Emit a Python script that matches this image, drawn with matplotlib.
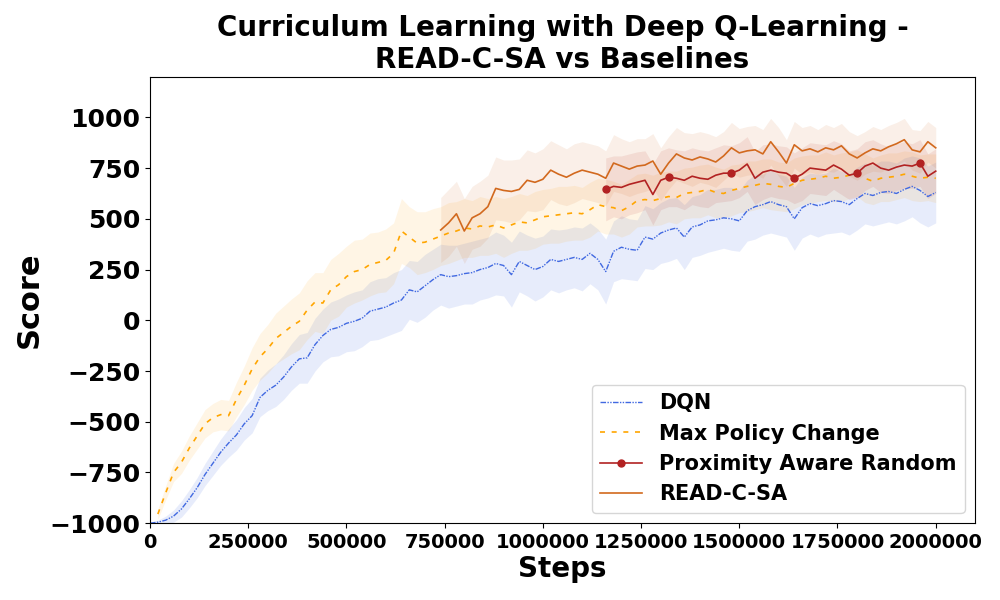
import numpy as np
import matplotlib
matplotlib.use('Agg')
import matplotlib.pyplot as plt

# steps (every 20000)
dqn_steps = np.arange(0, 2000001, 20000)
mpc_steps = np.arange(20000, 2000001, 20000)
read_steps = np.arange(740000, 2000001, 20000)
par_steps = np.arange(1160000, 2000001, 20000)

dqn_mean = [-1000,
            -995, -985, -965, -930, -880, -825, -760, -705, -650, -605,
            -565, -510, -470, -380, -345, -320, -280, -230, -190, -185,
            -120, -75, -45, -35, -15, -5, 10, 45, 55, 65,
            85, 100, 150, 140, 170, 200, 225, 215, 220, 230,
            235, 250, 260, 280, 270, 225, 290, 270, 250, 265,
            300, 290, 300, 310, 300, 330, 300, 240, 340, 360,
            350, 345, 410, 400, 430, 445, 455, 410, 460, 470,
            490, 495, 505, 500, 490, 540, 560, 570, 585, 570,
            560, 500, 555, 575, 565, 575, 590, 585, 570, 600,
            625, 615, 630, 635, 625, 645, 660, 640, 610, 630]
dqn_std = [5,
           10, 20, 30, 40, 45, 50, 55, 60, 65, 70,
           75, 80, 85, 95, 100, 105, 110, 115, 120, 125,
           130, 130, 135, 140, 140, 145, 140, 145, 150, 145,
           150, 150, 145, 150, 155, 150, 150, 155, 150, 150,
           155, 150, 150, 155, 150, 160, 150, 150, 155, 150,
           150, 155, 150, 150, 155, 150, 150, 160, 150, 155,
           150, 150, 155, 150, 150, 155, 150, 160, 150, 150,
           155, 150, 150, 155, 150, 150, 160, 150, 155, 150,
           150, 155, 150, 150, 155, 150, 160, 150, 150, 155,
           150, 150, 155, 150, 150, 155, 150, 160, 150, 150]

mpc_mean = [-955, -850, -750, -700, -630, -570, -510, -480, -465, -470,
            -390, -320, -240, -180, -140, -90, -60, -30, -5, 50,
            90, 85, 150, 175, 215, 240, 250, 275, 285, 295,
            330, 440, 410, 380, 385, 400, 415, 430, 440, 455,
            450, 465, 460, 470, 455, 470, 485, 480, 495, 510,
            515, 520, 525, 530, 525, 545, 570, 560, 555, 540,
            560, 590, 595, 590, 600, 610, 605, 625, 630, 635,
            645, 630, 625, 640, 650, 660, 665, 675, 670, 660,
            655, 675, 690, 695, 700, 710, 700, 705, 715, 725,
            700, 685, 700, 705, 710, 720, 710, 700, 705, 700]
mpc_std = [25, 35, 45, 55, 60, 65, 70, 70, 75, 75,
           85, 95, 105, 115, 120, 125, 130, 135, 140, 145,
           145, 150, 150, 155, 150, 155, 150, 155, 150, 155,
           150, 160, 150, 155, 150, 150, 145, 150, 145, 145,
           140, 145, 140, 140, 145, 140, 140, 135, 140, 135,
           135, 140, 135, 135, 130, 135, 130, 135, 130, 130,
           135, 130, 130, 125, 130, 125, 130, 125, 125, 130,
           125, 125, 120, 125, 120, 125, 120, 120, 125, 120,
           120, 125, 120, 120, 115, 120, 115, 120, 115, 115,
           120, 115, 115, 120, 115, 115, 120, 115, 115, 120]

read_mean = [445, 480, 525, 440, 505, 525, 560, 650, 640, 635,
             645, 690, 680, 695, 740, 720, 705, 725, 740, 730,
             720, 700, 775, 760, 745, 760, 765, 785, 720, 775,
             820, 800, 790, 805, 795, 780, 810, 850, 825, 835,
             840, 820, 880, 830, 775, 865, 835, 845, 830, 850,
             840, 860, 820, 800, 825, 845, 835, 855, 870, 890,
             840, 830, 880, 850]
read_std = [160, 165, 160, 160, 155, 160, 155, 155, 150, 155,
            150, 150, 145, 150, 145, 145, 140, 145, 140, 140,
            140, 135, 140, 135, 135, 135, 130, 135, 130, 130,
            130, 125, 130, 125, 125, 125, 120, 125, 120, 120,
            120, 120, 115, 120, 115, 115, 115, 115, 110, 115,
            110, 110, 110, 110, 105, 110, 105, 105, 105, 105,
            100, 105, 100, 100]

par_mean = [645, 660, 655, 670, 680, 690, 620, 690, 705, 700,
            690, 710, 700, 695, 715, 725, 725, 740, 770, 700,
            730, 740, 730, 725, 700, 720, 750, 745, 740, 765,
            745, 715, 725, 760, 775, 750, 740, 755, 765, 760,
            775, 710, 735]
par_std = [155, 150, 155, 150, 150, 145, 150, 145, 145, 140,
           145, 140, 140, 140, 135, 140, 135, 135, 135, 130,
           135, 130, 130, 130, 125, 130, 125, 125, 125, 120,
           125, 120, 120, 120, 115, 120, 115, 115, 115, 110,
           115, 110, 110]

fig = plt.figure(figsize=(10, 6), dpi=100)
ax = fig.add_axes([0.15, 0.128, 0.825, 0.744])

def band(x, m, s, color, alpha):
    m = np.array(m, dtype=float)
    s = np.array(s, dtype=float)
    ax.fill_between(x, m - s, m + s, color=color, alpha=alpha, linewidth=0)

band(dqn_steps, dqn_mean, dqn_std, 'royalblue', 0.12)
band(mpc_steps, mpc_mean, mpc_std, 'orange', 0.1)
band(par_steps, par_mean, par_std, 'firebrick', 0.1)
band(read_steps, read_mean, read_std, 'chocolate', 0.1)

ax.plot(dqn_steps, dqn_mean, color='royalblue', linewidth=1,
        linestyle=(0, (4, 1, 1, 1, 1, 1)), label='DQN')
ax.plot(mpc_steps, mpc_mean, color='orange', linewidth=1.2,
        linestyle=(0, (3, 4)), label='Max Policy Change')
ax.plot(par_steps, par_mean, color='firebrick', linewidth=1.2,
        marker='o', markersize=5, markevery=8, label='Proximity Aware Random')
ax.plot(read_steps, read_mean, color='chocolate', linewidth=1.2,
        label='READ-C-SA')

ax.set_xlim(0, 2100000)
ax.set_ylim(-1000, 1200)
ax.set_xticks([0, 250000, 500000, 750000, 1000000, 1250000, 1500000, 1750000, 2000000])
ax.set_yticks([-1000, -750, -500, -250, 0, 250, 500, 750, 1000])
ax.ticklabel_format(style='plain', axis='x', useOffset=False)
for t in ax.get_xticklabels():
    t.set_fontsize(14)
    t.set_fontweight('bold')
for t in ax.get_yticklabels():
    t.set_fontsize(18)
    t.set_fontweight('bold')

ax.set_xlabel('Steps', fontsize=20, fontweight='bold', labelpad=2)
ax.set_ylabel('Score', fontsize=22, fontweight='bold')
ax.set_title('Curriculum Learning with Deep Q-Learning -\nREAD-C-SA vs Baselines',
             fontsize=20, fontweight='bold')
ax.legend(loc='lower right', prop={'size': 15, 'weight': 'bold'})

fig.savefig('out.png')
